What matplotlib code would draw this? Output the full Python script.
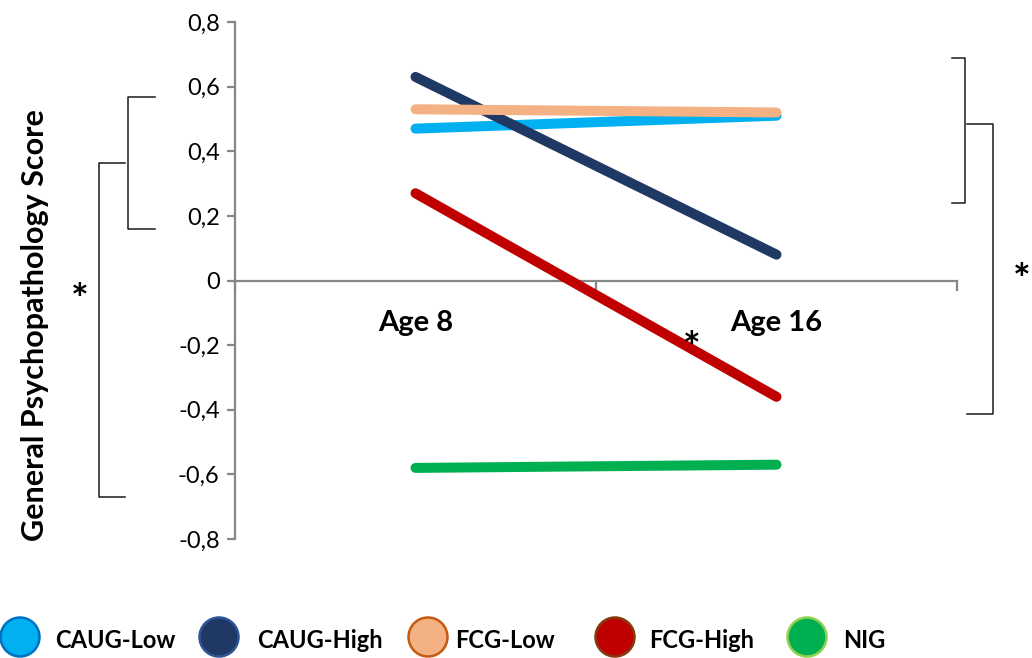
import matplotlib
matplotlib.use("Agg")
import matplotlib.pyplot as plt
from matplotlib.lines import Line2D
from matplotlib.patches import Circle

# ---- data -------------------------------------------------------------
ages = ["Age 8", "Age 16"]
groups = ["CAUG-Low", "CAUG-High", "FCG-Low", "FCG-High", "NIG"]
caug_low = [0.47, 0.51]
caug_high = [0.63, 0.08]
fcg_low = [0.53, 0.52]
fcg_high = [0.27, -0.36]
nig = [-0.58, -0.57]
series = [caug_low, caug_high, fcg_low, fcg_high, nig]

y_ticks = [-0.8, -0.6, -0.4, -0.2, 0.0, 0.2, 0.4, 0.6, 0.8]

# ---- style ------------------------------------------------------------
line_colors = ["#00B0F0", "#203864", "#F4B183", "#C00000", "#00B050"]
edge_colors = ["#0070C0", "#2F5597", "#C55A11", "#843C0C", "#92D050"]
axis_gray = "#868686"
FONT = ["Lato", "DejaVu Sans"]

W, H = 1032, 658
fig = plt.figure(figsize=(W / 100, H / 100), dpi=100)
fig.patch.set_facecolor("white")

# axes box in pixel terms: left 235, right 957, top 22, bottom 539
ax = fig.add_axes([235 / W, 1 - 539 / H, (957 - 235) / W, (539 - 22) / H])
ax.set_xlim(0, len(ages))
ax.set_ylim(-0.8, 0.8)

xpos = [i + 0.5 for i in range(len(ages))]
for vals, c in zip(series, line_colors):
    ax.plot(xpos, vals, color=c, lw=7.2, solid_capstyle="round", zorder=3)

# spines
for s in ["top", "right"]:
    ax.spines[s].set_visible(False)
ax.spines["left"].set_color(axis_gray)
ax.spines["left"].set_linewidth(1.6)
ax.spines["bottom"].set_position(("data", 0))
ax.spines["bottom"].set_color(axis_gray)
ax.spines["bottom"].set_linewidth(1.6)

ax.set_yticks(y_ticks)
ax.set_yticklabels([("%g" % v).replace(".", ",") for v in y_ticks],
                   fontfamily=FONT, fontsize=17, color="#000000")
ax.tick_params(axis="y", direction="out", length=6, width=1.6,
               color=axis_gray, pad=5)

ax.set_xticks(range(len(ages) + 1))
ax.set_xticklabels([])
ax.tick_params(axis="x", direction="out", length=7, width=1.6, color=axis_gray)

# category labels below the zero line
for x, lab in zip(xpos, ages):
    ax.text(x, -0.13, lab, ha="center", va="center", fontfamily=FONT,
            fontsize=21, fontweight="bold", transform=ax.transData)

# y axis title
fig.text(35 / W, 1 - 325 / H, "General Psychopathology Score", rotation=90,
         ha="center", va="center", fontfamily=FONT, fontsize=22,
         fontweight="bold")


def px(x, y):
    return x / W, 1 - y / H


def bracket(xv, xa, yt, yb):
    xs = [xa, xv, xv, xa]
    ys = [yt, yt, yb, yb]
    fx = [x / W for x in xs]
    fy = [1 - y / H for y in ys]
    fig.add_artist(Line2D(fx, fy, color="#1a1a1a", lw=1.1,
                          solid_joinstyle="round"))


# significance brackets
bracket(128, 155, 97, 229)
bracket(99, 125, 163, 497)
bracket(965, 952, 58, 203)
bracket(993, 967, 124, 414)

# asterisks (glyph sits high in its box, so the anchor is set lower)
for (x, y) in [(80, 302), (692, 350), (1022, 282)]:
    fx, fy = px(x, y)
    fig.text(fx, fy, "*", ha="center", va="center", fontfamily=FONT,
             fontsize=30, fontweight="bold")

# legend row
legend_circles = [20, 219, 428, 615, 807]
legend_text = [55, 257, 455, 649, 843]
for g, cx, tx, fc, ec in zip(groups, legend_circles, legend_text,
                             line_colors, edge_colors):
    fig.add_artist(Circle((cx, H - 637), 19.5, transform=None,
                          facecolor=fc, edgecolor=ec, lw=1.8))
    fx, fy = px(tx, 641)
    fig.text(fx, fy, g, ha="left", va="center", fontfamily=FONT,
             fontsize=17, fontweight="bold")

fig.savefig("out.png", dpi=100)
